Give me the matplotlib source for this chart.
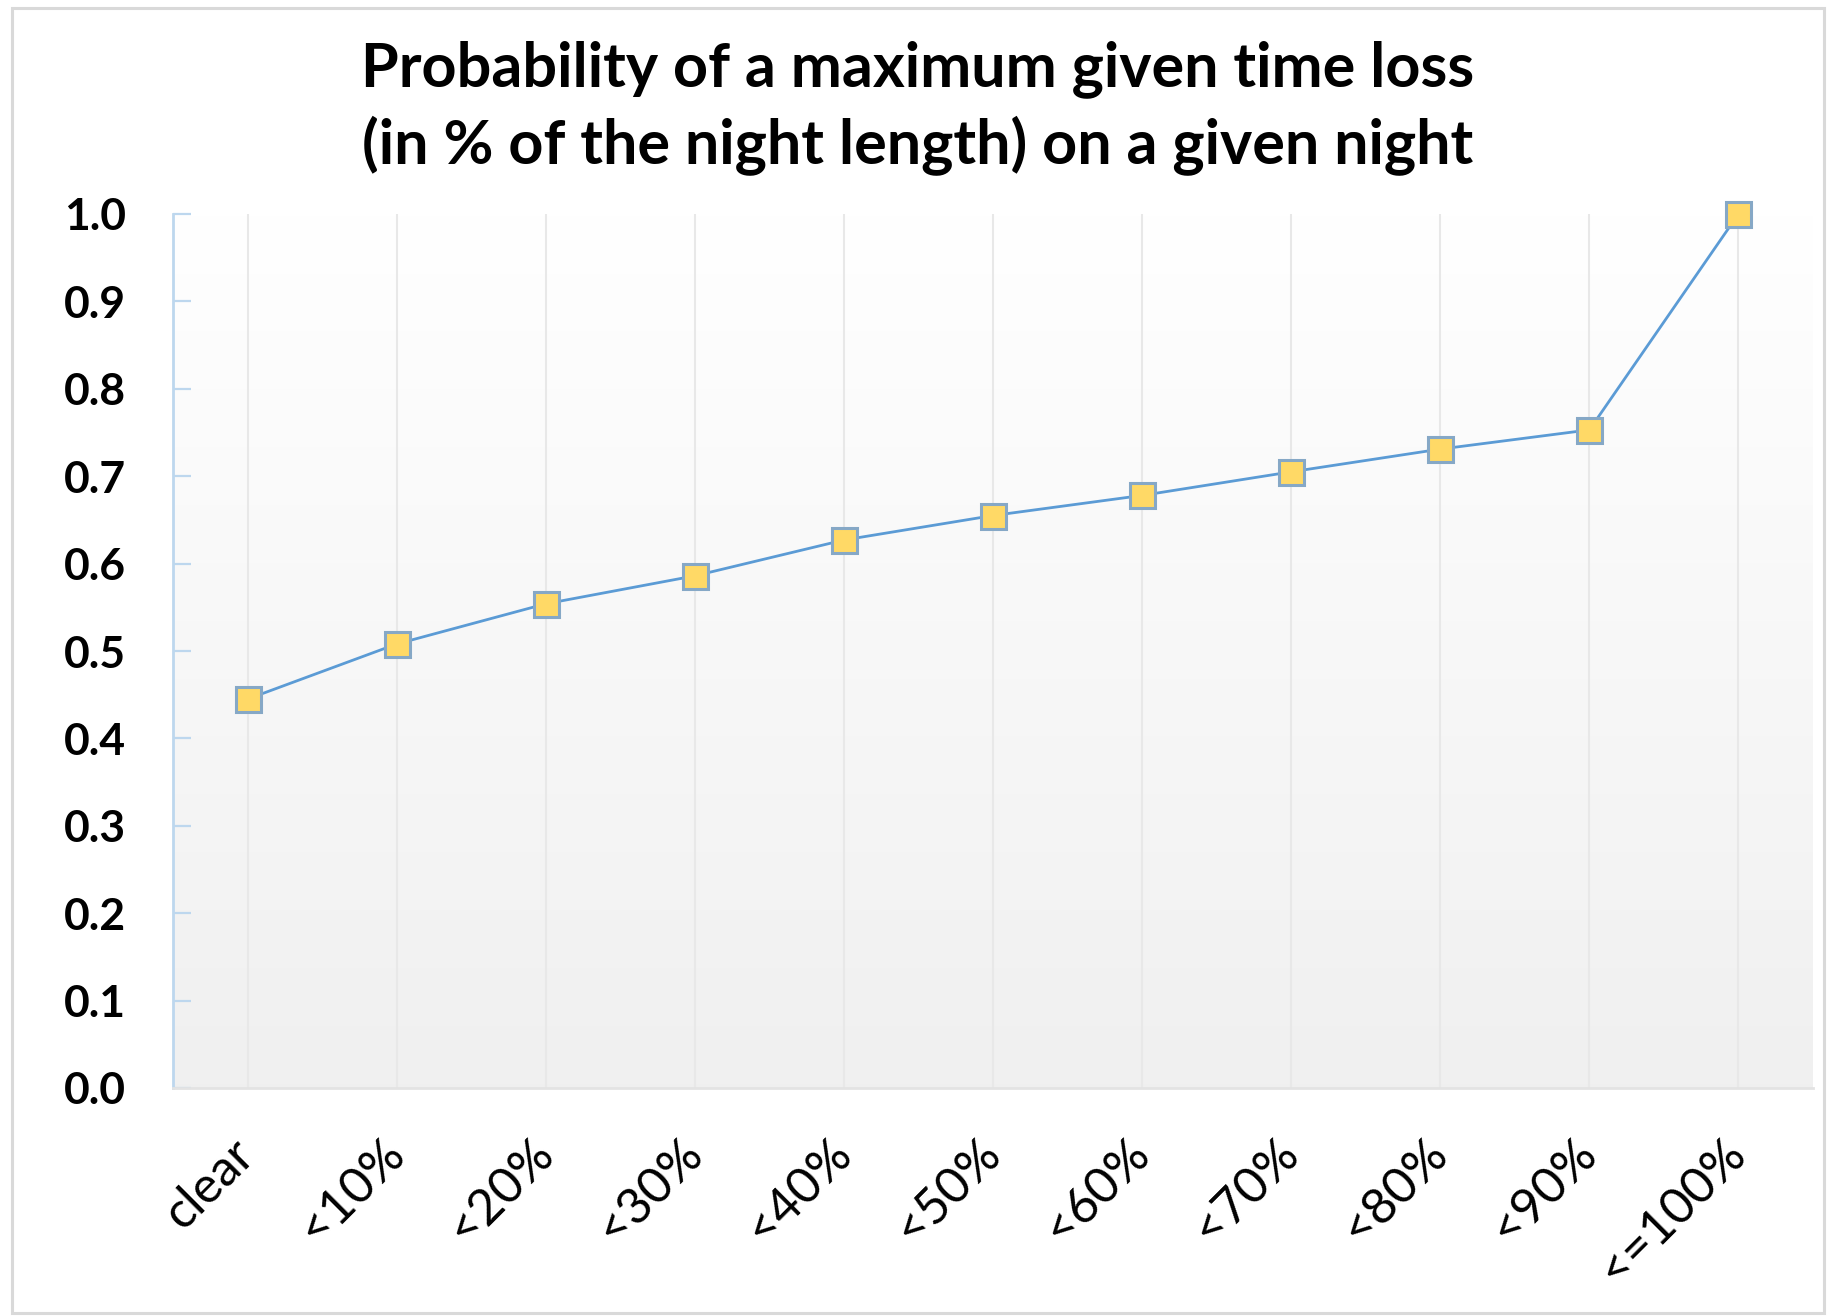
import numpy as np
import matplotlib
matplotlib.use("Agg")
import matplotlib.pyplot as plt
from matplotlib.patches import Rectangle

# Data
categories = ["clear", "<10%", "<20%", "<30%", "<40%", "<50%",
              "<60%", "<70%", "<80%", "<90%", "<=100%"]
probability = [0.445, 0.508, 0.554, 0.586, 0.627, 0.655,
               0.678, 0.705, 0.731, 0.753, 1.0]
y_ticks = [0.0, 0.1, 0.2, 0.3, 0.4, 0.5, 0.6, 0.7, 0.8, 0.9, 1.0]
title_text = ("Probability of a maximum given time loss\n"
              "(in % of the night length) on a given night")

plt.rcParams["font.family"] = ["Lato", "DejaVu Sans"]

W, H, DPI = 1836, 1316, 100
fig = plt.figure(figsize=(W / DPI, H / DPI), dpi=DPI)
fig.patch.set_facecolor("white")

# Chart frame
fig.patches.append(Rectangle((12 / W, 3 / H), (1824 - 12) / W, (1308 - 3) / H,
                             transform=fig.transFigure, fill=False,
                             edgecolor="#d9d9d9", linewidth=2.2))

ax = fig.add_axes([173 / W, 1 - 1088 / H, (1813 - 173) / W, (1088 - 214) / H])
x = np.arange(len(categories))
ax.set_xlim(-0.5, len(categories) - 0.5)
ax.set_ylim(0, 1.0)

# Vertical gradient background (white at top, light gray at bottom)
grad = np.linspace(1.0, 0.0, 256).reshape(-1, 1)
bg_top = np.array([1.0, 1.0, 1.0])
bg_bot = np.array([0.941, 0.941, 0.941])
img = bg_bot + (bg_top - bg_bot) * grad[..., None]
img = img.reshape(256, 1, 3)
ax.imshow(img, extent=[-0.5, len(categories) - 0.5, 0, 1.0],
          aspect="auto", zorder=0, interpolation="bilinear")
ax.set_facecolor("white")

# Vertical gridlines at each category
for xi in x:
    ax.axvline(xi, color="#e8e8e8", linewidth=1.5, zorder=1)

ax.plot(x, probability, color="#5B9BD5", linewidth=2.0, zorder=3,
        marker="s", markersize=18, markerfacecolor="#FFD966",
        markeredgecolor="#86A8C6", markeredgewidth=2.2, clip_on=False)

# Spines
for s in ["top", "right"]:
    ax.spines[s].set_visible(False)
ax.spines["left"].set_color("#BDD7EE")
ax.spines["left"].set_linewidth(2.0)
ax.spines["bottom"].set_color("#e3e3e3")
ax.spines["bottom"].set_linewidth(2.0)

ax.set_yticks(y_ticks)
ax.set_yticklabels([f"{v:.1f}" for v in y_ticks], fontsize=32,
                   fontweight="bold", color="black")
ax.tick_params(axis="y", direction="in", length=13, width=1.6,
               color="#BDD7EE", pad=34)

ax.set_xticks(x)
ax.set_xticklabels(categories, fontsize=36, rotation=45, ha="right",
                   va="center", rotation_mode="anchor", color="black")
ax.tick_params(axis="x", length=0, pad=42)

fig.text(0.5, 1 - 108 / H, title_text, ha="center", va="center",
         fontsize=44, fontweight="bold", linespacing=1.36, color="black")

fig.savefig("out.png", dpi=DPI, facecolor="white")
